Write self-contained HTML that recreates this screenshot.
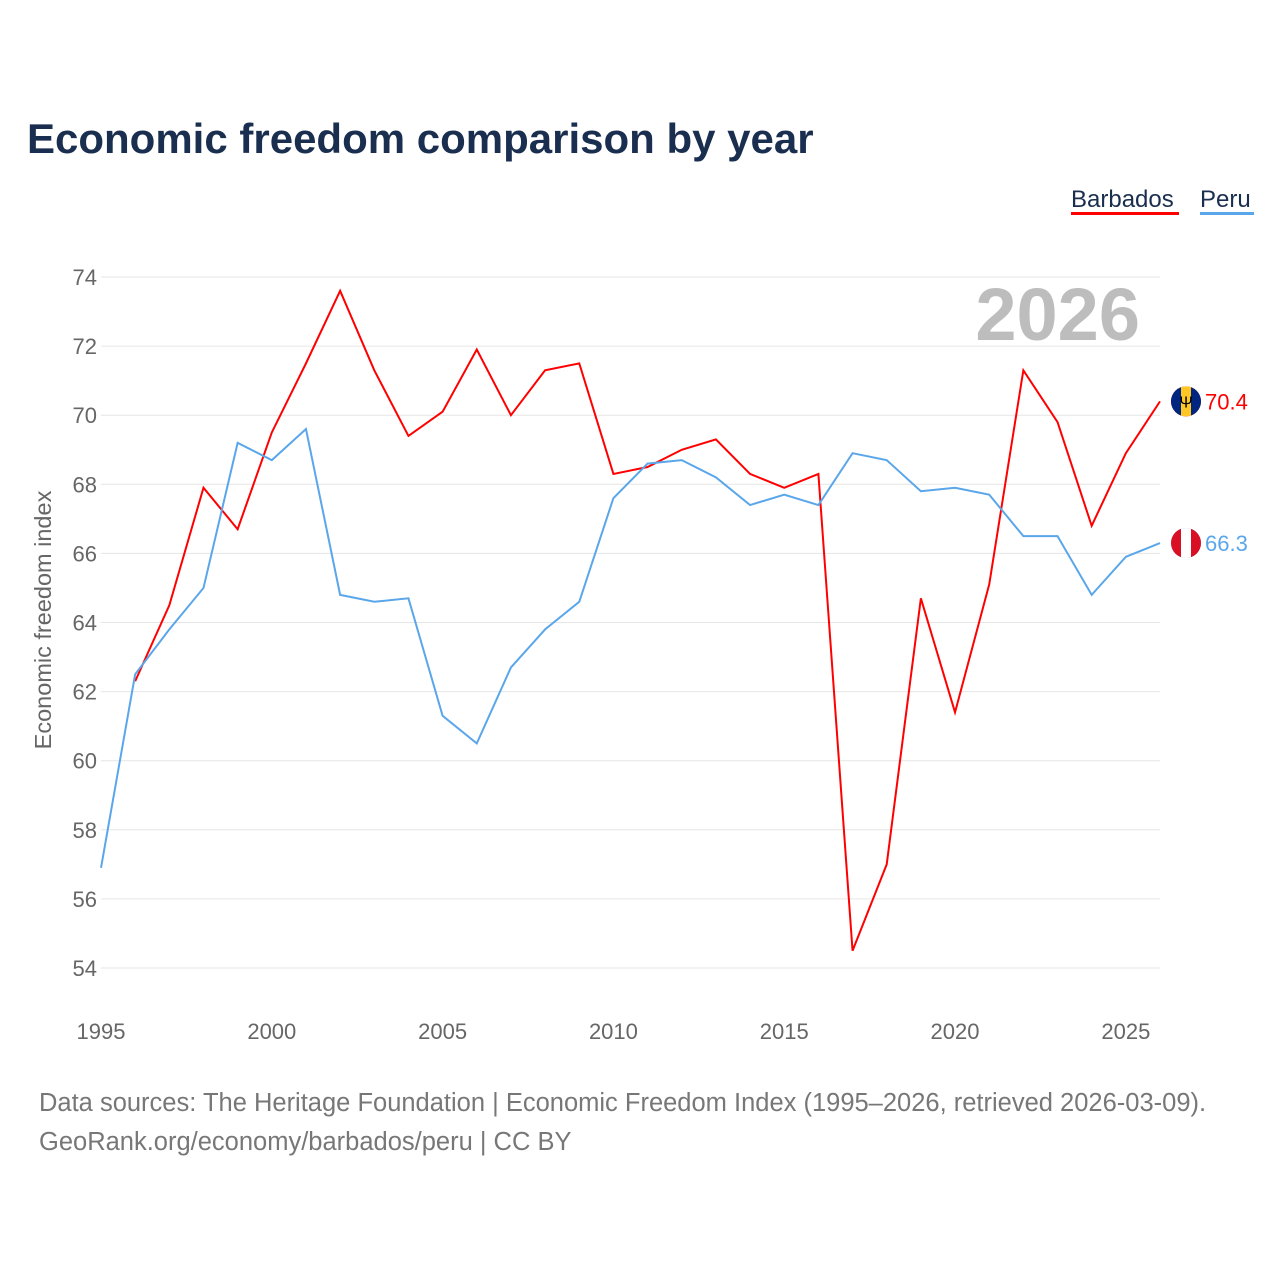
<!DOCTYPE html>
<html><head><meta charset="utf-8"><style>
body{margin:0;background:#fff;font-family:"Liberation Sans",sans-serif;}
#wrap{position:relative;width:1280px;height:1280px;overflow:hidden;}
</style></head><body>
<div id="wrap">
<svg id="chart" width="1280" height="1280">
<text x="27" y="153" font-size="42" font-weight="bold" fill="#1a2e4f">Economic freedom comparison by year</text>
<g><text x="1071" y="207" font-size="24" fill="#1a2e4f">Barbados</text><rect x="1071" y="212" width="108" height="3" fill="#f00"/></g>
<g><text x="1200" y="207" font-size="24" fill="#1a2e4f">Peru</text><rect x="1200" y="212" width="54" height="3" fill="#5aa6ea"/></g>
<text x="1140" y="340" font-size="74" font-weight="bold" fill="#bdbdbd" text-anchor="end">2026</text>
<text transform="translate(51,620) rotate(-90)" font-size="23.5" fill="#666" text-anchor="middle">Economic freedom index</text>
<g id="grid"></g><g id="series"></g>
<text x="39" y="1111" font-size="25.5" fill="#777">Data sources: The Heritage Foundation | Economic Freedom Index (1995–2026, retrieved 2026-03-09).</text>
<text x="39" y="1150" font-size="25.5" fill="#777">GeoRank.org/economy/barbados/peru | CC BY</text>
</svg></div>
<script>
const years=[1995,1996,1997,1998,1999,2000,2001,2002,2003,2004,2005,2006,2007,2008,2009,2010,2011,2012,2013,2014,2015,2016,2017,2018,2019,2020,2021,2022,2023,2024,2025,2026];
const barbados=[null,62.3,64.5,67.9,66.7,69.5,71.5,73.6,71.3,69.4,70.1,71.9,70.0,71.3,71.5,68.3,68.5,69.0,69.3,68.3,67.9,68.3,54.5,57.0,64.7,61.4,65.1,71.3,69.8,66.8,68.9,70.4];
const peru=[56.9,62.5,63.8,65.0,69.2,68.7,69.6,64.8,64.6,64.7,61.3,60.5,62.7,63.8,64.6,67.6,68.6,68.7,68.2,67.4,67.7,67.4,68.9,68.7,67.8,67.9,67.7,66.5,66.5,64.8,65.9,66.3];
const yTicks=[54,56,58,60,62,64,66,68,70,72,74];
const xTicks=[1995,2000,2005,2010,2015,2020,2025];
const NS="http://www.w3.org/2000/svg";
const X=y=>101+(y-1995)*(1160-101)/31;
const Y=v=>968-(v-54)*(968-277)/20;
function mk(t,a,p){const e=document.createElementNS(NS,t);for(const k in a)e.setAttribute(k,a[k]);p.appendChild(e);return e;}
const grid=document.getElementById('grid'),ser=document.getElementById('series');
yTicks.forEach(v=>{
 const l=mk('line',{x1:101,x2:1160,y1:Y(v),y2:Y(v),stroke:'#e6e6e6'},grid);
 
 
 const t=mk('text',{x:97,y:Y(v)+8,'font-size':22,fill:'#666','text-anchor':'end'},grid);t.textContent=v;
 
 
});
xTicks.forEach(v=>{
 const t=mk('text',{x:X(v),y:1039,'font-size':22,fill:'#666','text-anchor':'middle'},grid);t.textContent=v;
 
 
});
function line(arr,col,name){
 let d='';arr.forEach((v,i)=>{if(v==null)return;d+=(d?'L':'M')+X(years[i])+','+Y(v);});
 const p=mk('path',{d:d,fill:'none',stroke:col,'stroke-width':2},ser);
 
 
 const last=arr[arr.length-1],ly=Y(last);
 mk('circle',{cx:1186,cy:ly,r:15,fill:col},ser);
 const t=mk('text',{x:1205,y:ly+8,'font-size':22,fill:col},ser);t.textContent=last.toFixed(1);
 
 
 return ly;
}
const by=line(barbados,'#f00','barbados');
const py=line(peru,'#5aa6ea','peru');
const fb=mk('g',{},ser);
mk('clipPath',{id:'cb'},fb);mk('circle',{cx:1186,cy:by,r:15},document.getElementById('cb'));
mk('rect',{x:1171,y:by-15,width:10,height:30,fill:'#00267f','clip-path':'url(#cb)'},fb);
mk('rect',{x:1181,y:by-15,width:10,height:30,fill:'#ffc726','clip-path':'url(#cb)'},fb);
mk('rect',{x:1191,y:by-15,width:10,height:30,fill:'#00267f','clip-path':'url(#cb)'},fb);
const tr=mk('text',{x:1186,y:by+6,'font-size':16,'text-anchor':'middle',fill:'#000'},fb);tr.textContent='Ψ';
const fp=mk('g',{},ser);
mk('clipPath',{id:'cp'},fp);mk('circle',{cx:1186,cy:py,r:15},document.getElementById('cp'));
mk('rect',{x:1171,y:py-15,width:10,height:30,fill:'#d91023','clip-path':'url(#cp)'},fp);
mk('rect',{x:1181,y:py-15,width:10,height:30,fill:'#fff','clip-path':'url(#cp)'},fp);
mk('rect',{x:1191,y:py-15,width:10,height:30,fill:'#d91023','clip-path':'url(#cp)'},fp);
</script>
</body></html>
